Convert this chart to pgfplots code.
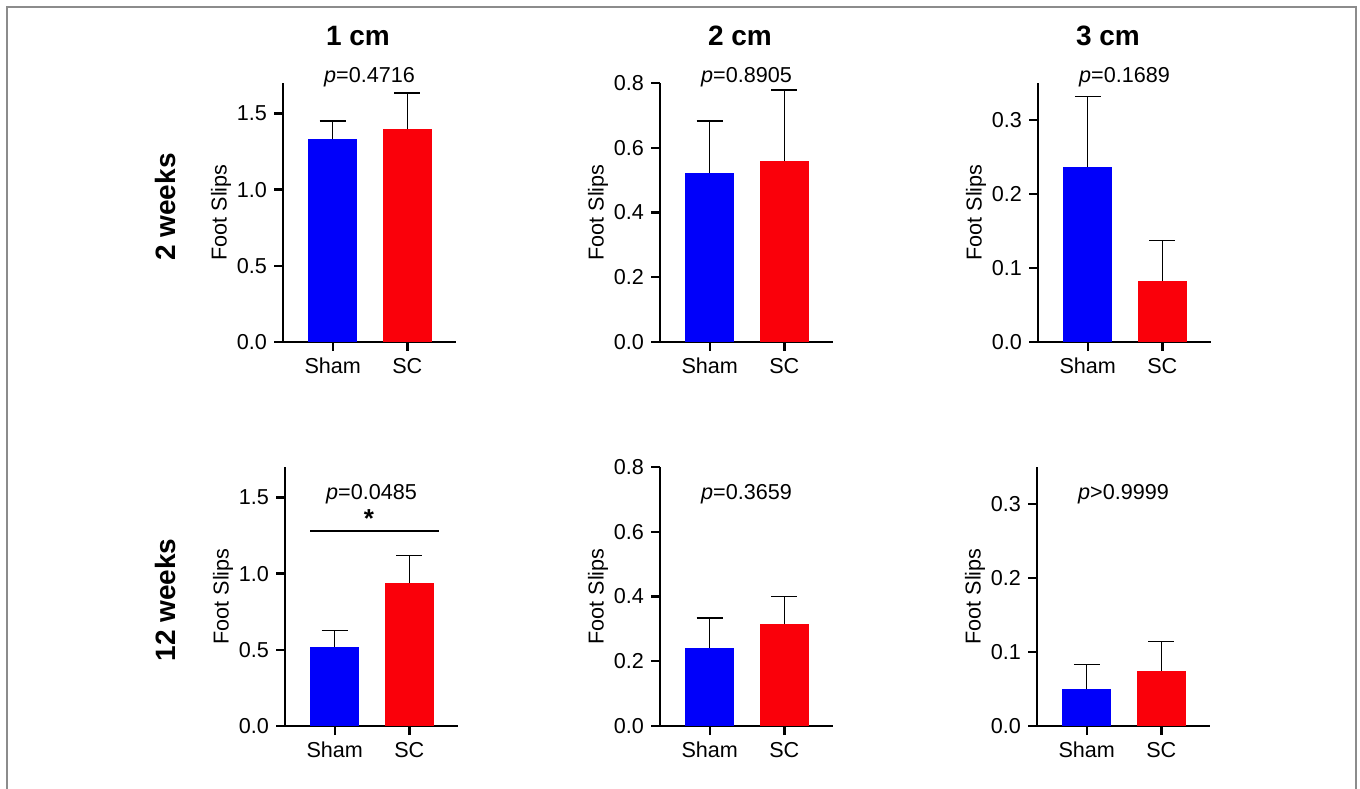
\documentclass[border=0pt]{standalone}
\usepackage{fontspec}
\setmainfont{Liberation Sans}
\usepackage{pgfplots}
\pgfplotsset{compat=1.18}
\definecolor{shamblue}{RGB}{0,0,250}
\definecolor{scred}{RGB}{250,0,10}
\definecolor{framegray}{RGB}{140,140,140}

\newcommand{\lbl}{\fontsize{10.8}{12}\selectfont}

\pgfplotsset{
  panel/.style={
    scale only axis, width=86.5pt, height=129.5pt, anchor=south west,
    axis lines*=left,
    axis line style={line width=1.2pt, black},
    xmin=-0.667, xmax=1.653, ymin=0,
    xtick={0,1}, xticklabels={Sham,SC},
    tick align=outside, major tick length=4.5pt,
    tick style={black, line width=1.2pt},
    tick label style={font=\lbl, black},
    yticklabel style={/pgf/number format/.cd, fixed, fixed zerofill, precision=1, assume math mode=true},
    ylabel={Foot Slips}, ylabel style={font=\lbl}, ylabel shift=-4pt,
    clip=false,
  },
  bar/.style={
    ybar, bar width=0.653, bar shift=0pt, draw=none,
    error bars/y dir=plus, error bars/y explicit,
    error bars/error bar style={black, line width=0.7pt},
    error bars/error mark options={black, line width=0.7pt, mark size=6.5pt, rotate=90},
  },
}

\begin{document}
\begin{tikzpicture}
\path[use as bounding box] (0,0) rectangle (680pt,394pt);
\draw[framegray, line width=0.8pt] (3.5pt,-2pt) -- (3.5pt,390.5pt) -- (678pt,390.5pt) -- (678pt,-2pt);

% 2 weeks, 1 cm
\begin{axis}[panel, at={(141.5pt,223pt)}, ymax=1.7, ytick={0,0.5,1,1.5}]
\addplot[bar, fill=shamblue] coordinates {(0,1.33) +- (0,0.12)};
\addplot[bar, fill=scred] coordinates {(1,1.40) +- (0,0.235)};
\node[font=\lbl] at (rel axis cs:0.5,1.023) {\textit{p}=0.4716};
\end{axis}

% 2 weeks, 2 cm
\begin{axis}[panel, at={(330pt,223pt)}, ymax=0.8, ytick={0,0.2,0.4,0.6,0.8}]
\addplot[bar, fill=shamblue] coordinates {(0,0.522) +- (0,0.161)};
\addplot[bar, fill=scred] coordinates {(1,0.559) +- (0,0.219)};
\node[font=\lbl] at (rel axis cs:0.5,1.023) {\textit{p}=0.8905};
\end{axis}

% 2 weeks, 3 cm
\begin{axis}[panel, at={(519pt,223pt)}, ymax=0.35, ytick={0,0.1,0.2,0.3}]
\addplot[bar, fill=shamblue] coordinates {(0,0.237) +- (0,0.095)};
\addplot[bar, fill=scred] coordinates {(1,0.083) +- (0,0.054)};
\node[font=\lbl] at (rel axis cs:0.5,1.023) {\textit{p}=0.1689};
\end{axis}

% 12 weeks, 1 cm
\begin{axis}[panel, at={(142.5pt,31pt)}, ymax=1.7, ytick={0,0.5,1,1.5}]
\addplot[bar, fill=shamblue] coordinates {(0,0.52) +- (0,0.105)};
\addplot[bar, fill=scred] coordinates {(1,0.94) +- (0,0.18)};
\node[font=\lbl] at (rel axis cs:0.5,0.895) {\textit{p}=0.0485};
\draw[black, line width=1.3pt] (axis cs:-0.33,1.28) -- (axis cs:1.40,1.28);
\node[font=\fontsize{13}{14}\selectfont\bfseries, anchor=base] at (axis cs:0.46,1.30) {*};
\end{axis}

% 12 weeks, 2 cm
\begin{axis}[panel, at={(330pt,31pt)}, ymax=0.8, ytick={0,0.2,0.4,0.6,0.8}]
\addplot[bar, fill=shamblue] coordinates {(0,0.241) +- (0,0.093)};
\addplot[bar, fill=scred] coordinates {(1,0.315) +- (0,0.085)};
\node[font=\lbl] at (rel axis cs:0.5,0.895) {\textit{p}=0.3659};
\end{axis}

% 12 weeks, 3 cm
\begin{axis}[panel, at={(518.5pt,31pt)}, ymax=0.35, ytick={0,0.1,0.2,0.3}]
\addplot[bar, fill=shamblue] coordinates {(0,0.05) +- (0,0.033)};
\addplot[bar, fill=scred] coordinates {(1,0.075) +- (0,0.039)};
\node[font=\lbl] at (rel axis cs:0.5,0.895) {\textit{p}>0.9999};
\end{axis}

% column titles and row labels
\begin{scope}[every node/.style={font=\fontsize{14}{15}\selectfont\bfseries}]
\node at (179pt,376pt) {1 cm};
\node at (370pt,376pt) {2 cm};
\node at (554pt,376pt) {3 cm};
\node[rotate=90] at (82.5pt,290.5pt) {2 weeks};
\node[rotate=90] at (82.5pt,94pt) {12 weeks};
\end{scope}
\end{tikzpicture}
\end{document}
